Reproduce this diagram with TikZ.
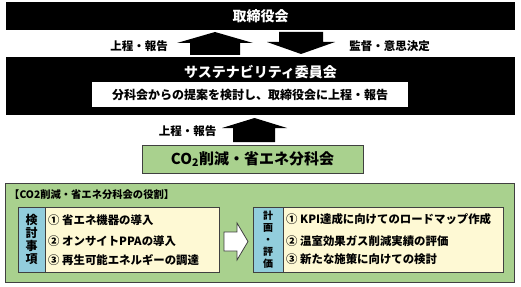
\documentclass[tikz,border=0pt]{standalone}
\usepackage{fontspec}
\setmainfont{Noto Sans CJK JP}
\definecolor{panelGreen}{HTML}{A9D18E}
\definecolor{labelBlue}{HTML}{92CDDC}
\definecolor{itemCream}{HTML}{FEF9D4}
\definecolor{edgeGray}{HTML}{404040}
\newcommand{\jpsize}[2]{\fontsize{#1}{#2}\selectfont}
\begin{document}
\begin{tikzpicture}[x=1pt, y=-1pt,
    blackbar/.style={fill=black, text=white, minimum width=509pt, inner sep=0pt},
    greenbox/.style={draw=edgeGray, line width=0.8pt, fill=panelGreen, inner sep=0pt},
    bluelabel/.style={draw=edgeGray, line width=0.8pt, fill=labelBlue, inner sep=0pt, minimum height=65pt, align=center},
    creambox/.style={draw=edgeGray, line width=0.8pt, fill=itemCream, inner sep=0pt, minimum height=65pt},
    itemtext/.style={anchor=west, inner sep=0pt, font=\bfseries\jpsize{11.4}{11.4}},
    flowtext/.style={inner sep=0pt, font=\bfseries\jpsize{11.5}{11.5}},
    blockarrow/.style={fill=black},
    whitearrow/.style={fill=white, draw=edgeGray, line width=0.8pt, line join=miter}]
    \useasboundingbox (0,0) rectangle (521,286);

    % --- BOARD AND COMMITTEE ---
    \node[blackbar, minimum height=28pt, font=\bfseries\jpsize{14}{14}] (board) at (260.5,16) {取締役会};
    \node[blackbar, minimum height=58pt] (committee) at (260.5,86) {};
    \node[text=white, inner sep=0pt, font=\bfseries\jpsize{14}{14}] (committeeTitle) at (260.5,72) {サステナビリティ委員会};
    \node[fill=white, inner sep=0pt, minimum width=316pt, minimum height=25pt, font=\bfseries\jpsize{12}{12}] (committeeTask) at (250,94.5) {分科会からの提案を検討し、取締役会に上程・報告};

    % --- SUBCOMMITTEE ---
    \node[greenbox, minimum width=221pt, minimum height=28pt, font=\bfseries\jpsize{15}{15}] (subcommittee) at (252.5,159) {CO\textsubscript{2}削減・省エネ分科会};

    % --- BLOCK ARROWS ---
    \coordinate (tipReport) at (215,32);
    \fill[blockarrow] (tipReport) -- ++(38,11) -- ++(-13,0) -- ++(0,12) -- ++(-50,0) -- ++(0,-12) -- ++(-13,0) -- cycle;
    \coordinate (tipSupervise) at (301,54);
    \fill[blockarrow] (tipSupervise) -- ++(34,-12) -- ++(-12,0) -- ++(0,-10) -- ++(-44,0) -- ++(0,10) -- ++(-12,0) -- cycle;
    \coordinate (tipSubReport) at (254.5,118);
    \fill[blockarrow] (tipSubReport) -- ++(32.5,10) -- ++(-12,0) -- ++(0,14) -- ++(-42,0) -- ++(0,-14) -- ++(-11,0) -- cycle;

    % --- ARROW LABELS ---
    \node[flowtext] (reportLabel) at (139,46) {上程・報告};
    \node[flowtext] (superviseLabel) at (389.5,46) {監督・意思決定};
    \node[flowtext] (subReportLabel) at (187.5,131) {上程・報告};

    % --- ROLES PANEL ---
    \node[greenbox, minimum width=509pt, minimum height=99pt] (rolesPanel) at (259.5,232.5) {};
    \node[anchor=west, inner sep=0pt, font=\bfseries\jpsize{10.3}{10.3}] (rolesTitle) at (9,195) {【CO2削減・省エネ分科会の役割】};

    % left: items under review
    \node[bluelabel, minimum width=27pt, font=\bfseries\jpsize{12}{13}] (reviewLabel) at (31.5,239.5) {検\\討\\事\\項};
    \node[creambox, minimum width=174pt] (reviewBox) at (132,239.5) {};
    \node[itemtext] (reviewOne) at (48,220) {① 省エネ機器の導入};
    \node[itemtext] (reviewTwo) at (48,241) {② オンサイトPPAの導入};
    \node[itemtext] (reviewThree) at (48,260) {③ 再生可能エネルギーの調達};

    % white arrow between the two lists
    \coordinate (tipPlan) at (248,241.5);
    \draw[whitearrow] (tipPlan) -- ++(-11,18.5) -- ++(0,-9) -- ++(-13,0) -- ++(0,-19) -- ++(13,0) -- ++(0,-9) -- cycle;

    % right: planning and evaluation
    \node[bluelabel, minimum width=30pt, font=\bfseries\jpsize{10}{12}] (planLabel) at (268,239.5) {計\\画\\・\\評\\価};
    \node[creambox, minimum width=220pt] (planBox) at (393,239.5) {};
    \node[itemtext] (planOne) at (286,219) {① KPI達成に向けてのロードマップ作成};
    \node[itemtext] (planTwo) at (286,241) {② 温室効果ガス削減実績の評価};
    \node[itemtext] (planThree) at (286,259) {③ 新たな施策に向けての検討};
\end{tikzpicture}
\end{document}
